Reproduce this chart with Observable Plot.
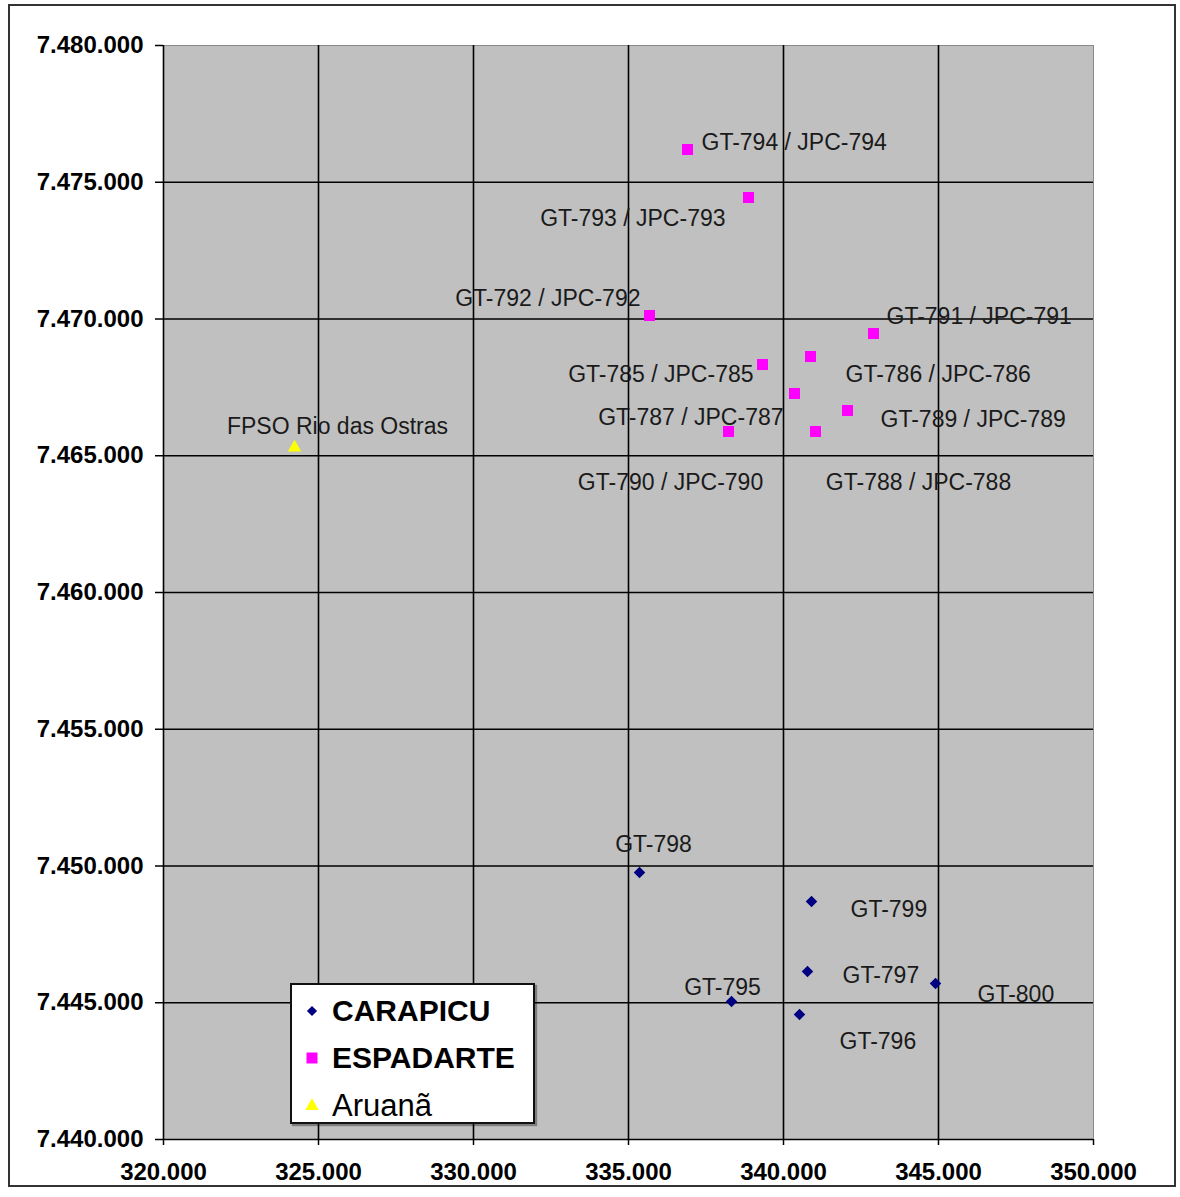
<!DOCTYPE html>
<html>
<head>
<meta charset="utf-8">
<script src="https://cdn.jsdelivr.net/npm/d3@7"></script>
<script src="https://cdn.jsdelivr.net/npm/@observablehq/plot@0.6"></script>
<style>
  html, body { margin: 0; padding: 0; background: #fff; }
  #wrap { position: relative; width: 1180px; height: 1197px; overflow: hidden; font-family: "Liberation Sans", Arial, sans-serif; }
  #border { position: absolute; left: 8px; top: 4px; width: 1168px; height: 1183px; border: 2px solid #333; box-sizing: border-box; pointer-events: none; }
  #legend { position: absolute; left: 290px; top: 983px; width: 245px; height: 141px; background: #fff; border: 2px solid #111; box-sizing: border-box; box-shadow: 2px 2px 1px rgba(0,0,0,0.35); }
  .li { position: absolute; left: 0; height: 40px; display: flex; align-items: center; color: #000; }
  .li svg { position: absolute; left: 12px; }
  .li span { position: absolute; left: 40px; white-space: nowrap; line-height: 40px; }
</style>
</head>
<body>
<div id="wrap"><div id="chart"></div><div id="legend"></div><div id="border"></div></div>
<script>
// ---- data ----
const carapicuNames = ["GT-795", "GT-796", "GT-797", "GT-798", "GT-799", "GT-800"];
const carapicuX = [338323, 340516, 340774, 335355, 340903, 344903];
const carapicuY = [7445046, 7444570, 7446143, 7449762, 7448702, 7445704];

const espadarteNames = ["GT-785 / JPC-785", "GT-786 / JPC-786", "GT-787 / JPC-787", "GT-788 / JPC-788", "GT-789 / JPC-789",
                        "GT-790 / JPC-790", "GT-791 / JPC-791", "GT-792 / JPC-792", "GT-793 / JPC-793", "GT-794 / JPC-794"];
const espadarteX = [339323, 340871, 340355, 341032, 342065, 338226, 342903, 335677, 338871, 336903];
const espadarteY = [7468336, 7468629, 7467276, 7465887, 7466655, 7465887, 7469470, 7470128, 7474442, 7476197];

const aruanaNames = ["FPSO Rio das Ostras"];
const aruanaX = [324226];
const aruanaY = [7465302];

const seriesNames = ["CARAPICU", "ESPADARTE", "Aruanã"];
const xTicks = [320000, 325000, 330000, 335000, 340000, 345000, 350000];
const yTicks = [7440000, 7445000, 7450000, 7455000, 7460000, 7465000, 7470000, 7475000, 7480000];

// ---- label placement (pixel offsets from the point) ----
const labelPlacement = {
  "GT-794 / JPC-794": {anchor: "start", dx: 14, dy: -7},
  "GT-793 / JPC-793": {anchor: "end", dx: -23, dy: 21},
  "GT-792 / JPC-792": {anchor: "end", dx: -9, dy: -17},
  "GT-791 / JPC-791": {anchor: "start", dx: 13, dy: -17},
  "GT-785 / JPC-785": {anchor: "end", dx: -9, dy: 10},
  "GT-786 / JPC-786": {anchor: "start", dx: 35, dy: 18},
  "GT-787 / JPC-787": {anchor: "end", dx: -11, dy: 24},
  "GT-789 / JPC-789": {anchor: "start", dx: 33, dy: 9},
  "GT-790 / JPC-790": {anchor: "middle", dx: -58, dy: 51},
  "GT-788 / JPC-788": {anchor: "middle", dx: 103, dy: 51},
  "GT-798": {anchor: "middle", dx: 14, dy: -28},
  "GT-799": {anchor: "start", dx: 39, dy: 8},
  "GT-797": {anchor: "start", dx: 35, dy: 4},
  "GT-800": {anchor: "start", dx: 42, dy: 11},
  "GT-795": {anchor: "middle", dx: -9, dy: -14},
  "GT-796": {anchor: "start", dx: 40, dy: 27},
  "FPSO Rio das Ostras": {anchor: "middle", dx: 43, dy: -21}
};

const styles = {
  "CARAPICU": {symbol: "diamond2", fill: "#000080", r: 5.2, weight: "bold", size: 30},
  "ESPADARTE": {symbol: "square", fill: "#FF00FF", r: 6.2, weight: "bold", size: 30},
  "Aruanã": {symbol: "triangle", fill: "#FFFF00", r: 5.0, weight: "normal", size: 31}
};

const build = (names, xs, ys, series) => names.map((n, i) => ({name: n, x: xs[i], y: ys[i], series}));
const points = [
  ...build(carapicuNames, carapicuX, carapicuY, "CARAPICU"),
  ...build(espadarteNames, espadarteX, espadarteY, "ESPADARTE"),
  ...build(aruanaNames, aruanaX, aruanaY, "Aruanã")
];

const fmt = d3.formatLocale({decimal: ",", thousands: ".", grouping: [3], currency: ["", ""]}).format(",.0f");

const labelMarks = points.map(p => {
  const pl = labelPlacement[p.name];
  return Plot.text([p], {
    x: "x", y: "y", text: "name",
    dx: pl.dx, dy: pl.dy, textAnchor: pl.anchor, lineAnchor: "middle",
    fontSize: 23, fill: "#1a1a1a"
  });
});

const dotMarks = seriesNames.map(s => Plot.dot(points.filter(p => p.series === s), {
  x: "x", y: "y", symbol: () => styles[s].symbol, r: styles[s].r,
  fill: styles[s].fill, stroke: "none"
}));

const chart = Plot.plot({
  width: 1180,
  height: 1197,
  marginLeft: 163,
  marginRight: 87,
  marginTop: 45,
  marginBottom: 58,
  style: {fontFamily: "'Liberation Sans', Arial, sans-serif", background: "transparent"},
  x: {domain: [320000, 350000]},
  y: {domain: [7440000, 7480000]},
  symbol: {type: "identity"},
  marks: [
    Plot.frame({fill: "#c0c0c0", stroke: "#8a8a8a", strokeWidth: 1}),
    Plot.ruleX(xTicks.filter(d => d < 350000), {stroke: "#000", strokeWidth: 1.6}),
    Plot.ruleY(yTicks.filter(d => d < 7480000), {stroke: "#000", strokeWidth: 1.6}),
    Plot.axisY({ticks: yTicks, tickFormat: fmt, tickSize: 8, tickPadding: 12, fontSize: 24, fontWeight: "bold", fill: "#000", stroke: "#000", strokeWidth: 1.5, label: null}),
    Plot.axisX({ticks: xTicks, tickFormat: fmt, tickSize: 6, tickPadding: 17, fontSize: 24, fontWeight: "bold", fill: "#000", stroke: "#000", strokeWidth: 1.5, label: null}),
    ...labelMarks,
    ...dotMarks
  ]
});
document.getElementById("chart").appendChild(chart);

// ---- legend (HTML overlay inside the plot area, as in the original) ----
const legend = document.getElementById("legend");
const symPaths = {
  "CARAPICU": d3.symbol(d3.symbolDiamond2, Math.PI * 4.6 * 4.6)(),
  "ESPADARTE": d3.symbol(d3.symbolSquare, Math.PI * 6.2 * 6.2)(),
  "Aruanã": d3.symbol(d3.symbolTriangle, Math.PI * 5.0 * 5.0)()
};
const rowTops = [6, 53, 101];
seriesNames.forEach((s, i) => {
  const row = document.createElement("div");
  row.className = "li";
  row.style.top = rowTops[i] + "px";
  row.innerHTML = `<svg width="16" height="16" viewBox="-8 -8 16 16" style="top:12px"><path d="${symPaths[s]}" fill="${styles[s].fill}"></path></svg>` +
    `<span style="font-weight:${styles[s].weight};font-size:${styles[s].size}px">${s}</span>`;
  legend.appendChild(row);
});
</script>
</body>
</html>
